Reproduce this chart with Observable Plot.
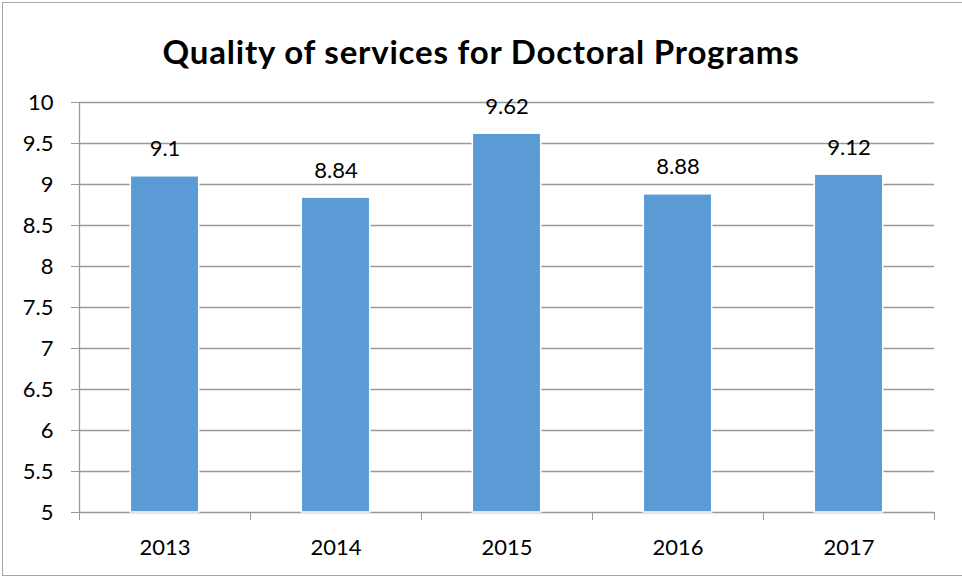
<!DOCTYPE html>
<html>
<head>
<meta charset="utf-8">
<script src="https://cdn.jsdelivr.net/npm/d3@7"></script>
<script src="https://cdn.jsdelivr.net/npm/@observablehq/plot@0.6"></script>
<style>
  html, body { margin: 0; padding: 0; background: #fff; }
  #frame { position: absolute; left: 2px; top: 2px; width: 962px; height: 574px;
           border-left: 1.5px solid #a6a6a6; border-top: 1.5px solid #a6a6a6; border-bottom: 1.5px solid #a6a6a6; box-sizing: border-box; }
  #title { position: absolute; left: 0; top: 31px; width: 962px; text-align: center;
           font-family: Lato, sans-serif; font-weight: bold; font-size: 33px; letter-spacing: 0.8px; line-height: 40px; color: #000; }
  #chart { position: absolute; left: 0; top: 78px; }
</style>
</head>
<body>
<div id="frame"></div>
<div id="title">Quality of services for Doctoral Programs</div>
<div id="chart"></div>
<script>
const years = [2013, 2014, 2015, 2016, 2017];
const values = [9.1, 8.84, 9.62, 8.88, 9.12];
const yTicks = [5, 5.5, 6, 6.5, 7, 7.5, 8, 8.5, 9, 9.5, 10];
const boundaries = [2012.5, 2013.5, 2014.5, 2015.5, 2016.5, 2017.5];

const data = years.map((year, i) => ({year, value: values[i]}));
const halfBar = 0.2;

const plot = Plot.plot({
  width: 962,
  height: 482,
  marginLeft: 79,
  marginRight: 28,
  marginTop: 24,
  marginBottom: 48,
  style: {fontFamily: "Lato, sans-serif", fontSize: "22px", color: "#000", background: "transparent", overflow: "visible"},
  x: {type: "linear", domain: [2012.5, 2017.5], label: null},
  y: {domain: [5, 10], label: null},
  marks: [
    Plot.ruleY(yTicks, {x1: 2012.5, x2: 2017.5, stroke: "#999", strokeWidth: 1.3}),
    Plot.ruleX([2012.5], {y1: 5, y2: 10, stroke: "#999", strokeWidth: 1.3}),
    Plot.axisY({ticks: yTicks, label: null, tickSize: 8, tickPadding: 18, stroke: "#999", strokeOpacity: 1, fill: "#000", fontSize: 22, tickFormat: d => String(d)}),
    Plot.axisX({ticks: boundaries, label: null, tickSize: 8, tickFormat: () => "", stroke: "#999", strokeOpacity: 1}),
    Plot.axisX({ticks: years, label: null, tickSize: 0, tickPadding: 27, fill: "#000", fontSize: 22, tickFormat: d => String(d)}),
    Plot.rect(data, {x1: d => d.year - halfBar, x2: d => d.year + halfBar, y1: 5, y2: "value", fill: "#5b9bd5", stroke: "#fff", strokeWidth: 1.5}),
    Plot.text(data, {x: "year", y: "value", text: d => String(d.value), dy: -20, lineAnchor: "bottom", fontSize: 22, fill: "#000"})
  ]
});
document.getElementById("chart").appendChild(plot);
</script>
</body>
</html>
